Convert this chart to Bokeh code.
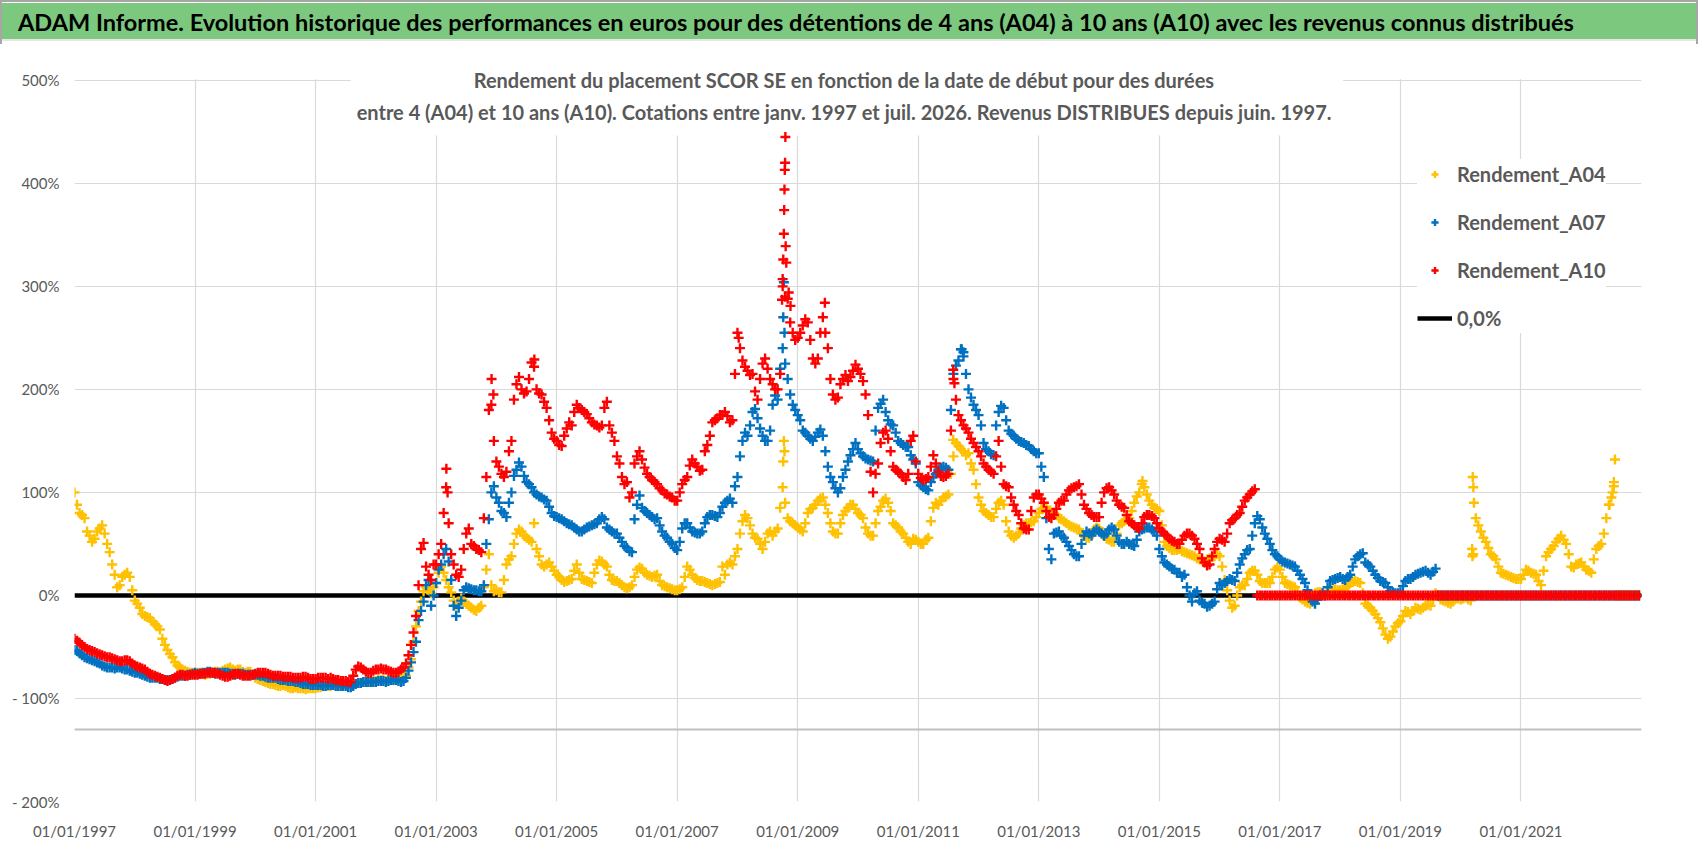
from bokeh.plotting import figure
from bokeh.models import (Range1d, FixedTicker, Legend, LegendItem, Label,
                          BoxAnnotation, Span, Div, ColumnDataSource)
from bokeh.layouts import column
from bokeh.embed import file_html
from bokeh.resources import INLINE

# ---------------------------------------------------------------- texts
TITLE = ("ADAM Informe. Evolution historique des performances en euros pour des "
         "détentions de 4 ans (A04) à 10 ans (A10) avec les revenus connus distribués")
SUBTITLE_1 = "Rendement du placement SCOR SE  en fonction de la date de début pour des durées"
SUBTITLE_2 = ("entre 4 (A04) et 10 ans (A10).  Cotations entre janv. 1997 et juil. 2026. "
              "Revenus DISTRIBUES depuis juin. 1997.")
SERIES_NAMES = ["Rendement_A04", "Rendement_A07", "Rendement_A10", "0,0%"]

# ---------------------------------------------------------------- axes
x_ticks = [1997, 1999, 2001, 2003, 2005, 2007, 2009, 2011, 2013, 2015, 2017, 2019, 2021]
x_tick_labels = ["01/01/1997", "01/01/1999", "01/01/2001", "01/01/2003", "01/01/2005",
                 "01/01/2007", "01/01/2009", "01/01/2011", "01/01/2013", "01/01/2015",
                 "01/01/2017", "01/01/2019", "01/01/2021"]
y_ticks = [-200, -100, 0, 100, 200, 300, 400, 500]
y_tick_labels = ["- 200%", "- 100%", "0%", "100%", "200%", "300%", "400%", "500%"]
X_MIN, X_MAX = 1997.0, 2023.0
Y_MIN, Y_MAX = -200, 500
Y_TOP_ROOM = 525             # room above 500% for the subtitle
FIRST_YEAR = 1997.0          # first monthly value = start of January 1997
BASE_LINE = -130             # grey horizontal line of the original chart

# ---------------------------------------------------------------- data (%)
# readings at the start of each month, from Jan 1997
a04 = [
    100, 80, 75, 58, 55, 65, 60, 42, 20, 10, 20, 18,            # 1997
    -5, -12, -20, -22, -28, -33, -48, -57, -65, -70, -73, -75,  # 1998
    -76, -75, -77, -76, -74, -75, -72, -70, -73, -72, -75, -74,  # 1999
    -80, -82, -84, -86, -87, -88, -88, -90, -89, -90, -91, -90,  # 2000
    -90, -89, -88, -88, -86, -87, -86, -85, -86, -85, -84, -84,  # 2001
    -83, -82, -83, -82, -81, -80, -78, -62, -30, -6, 8, 2,       # 2002
    12, 28, 15, 3, -10, -3, -8, -12, -15, -10, 25, 10,           # 2003
    5, 3, 30, 38, 60, 62, 56, 52, 45, 30, 30, 28,                # 2004
    20, 15, 14, 16, 30, 16, 14, 12, 30, 33, 28, 15,              # 2005
    14, 10, 7, 10, 25, 26, 20, 18, 20, 10, 8, 6,                 # 2006
    5, 8, 28, 20, 15, 14, 12, 10, 12, 28, 30, 30,                # 2007
    45, 72, 75, 60, 55, 45, 60, 58, 65, 105, 75, 70,             # 2008
    66, 62, 80, 85, 92, 95, 80, 62, 60, 78, 85, 88,              # 2009
    80, 75, 60, 58, 82, 92, 90, 70, 66, 60, 52, 55,              # 2010
    52, 50, 56, 85, 88, 95, 98, 135, 145, 140, 138, 122,         # 2011
    95, 82, 78, 76, 90, 88, 62, 56, 60, 68, 70, 72,              # 2012
    80, 85, 82, 80, 75, 72, 68, 66, 64, 58, 56, 64,              # 2013
    65, 58, 54, 52, 68, 72, 75, 90, 100, 105, 92, 85,            # 2014
    82, 52, 46, 44, 45, 42, 40, 38, 35, 33, 36, 38,              # 2015
    38, 15, -5, -10, 8, 10, 22, 24, 14, 12, 12, 25,              # 2016
    25, 12, 10, 8, -2, -6, -8, 2, 3, 1, 4, 6,                    # 2017
    5, 7, 12, 14, 12, -8, -12, -18, -26, -38, -40, -30,          # 2018
    -25, -15, -18, -12, -14, -10, -10, 2, -4, -6, -8, -3,        # 2019
    -4, -2, -5, 75, 62, 52, 40, 35, 22, 20, 18, 16,              # 2020
    16, 25, 22, 20, 10, 38, 45, 52, 58, 50, 28, 30,              # 2021
    32, 25, 22, 45, 50, 75, 95, 0, 0, 0, 0, 0,                   # 2022
]
# readings in the middle of each month, from Jan 1997
a04_mid = [
    88, 78, 62, 52, 62, 68, 50, 30, 8, 18, 22, 5,                # 1997
    -8, -18, -21, -25, -30, -42, -53, -60, -68, -72, -74, -75,   # 1998
    -75, -76, -76, -75, -74, -73, -71, -72, -72, -74, -74, -77,  # 1999
    -81, -83, -85, -86, -88, -87, -89, -90, -90, -90, -90, -90,  # 2000
    -89, -88, -88, -87, -86, -86, -85, -86, -85, -84, -84, -83,  # 2001
    -82, -82, -82, -81, -80, -79, -70, -45, -15, 4, 5, 8,        # 2002
    22, 22, 8, -5, -6, -6, -10, -14, -12, 8, 40, 4,              # 2003
    3, 15, 35, 50, 64, 58, 54, 70, 38, 28, 32, 24,               # 2004
    18, 13, 15, 24, 22, 15, 13, 22, 34, 30, 20, 14,              # 2005
    12, 8, 8, 18, 27, 22, 19, 19, 14, 9, 7, 5,                   # 2006
    6, 18, 25, 17, 14, 13, 11, 11, 13, 20, 32, 38,               # 2007
    60, 78, 68, 56, 50, 52, 62, 62, 85, 90, 72, 68,              # 2008
    64, 70, 84, 88, 94, 88, 70, 60, 70, 82, 88, 84,              # 2009
    78, 66, 58, 70, 86, 94, 82, 68, 62, 56, 50, 54,              # 2010
    50, 54, 72, 90, 92, 96, 118, 148, 142, 136, 128, 108,        # 2011
    88, 80, 76, 84, 92, 72, 58, 58, 65, 70, 71, 76,              # 2012
    84, 86, 80, 78, 74, 70, 67, 65, 60, 56, 60, 66,              # 2013
    62, 55, 52, 60, 70, 74, 82, 96, 108, 98, 88, 84,             # 2014
    68, 48, 44, 44, 43, 41, 39, 36, 34, 35, 37, 40,              # 2015
    28, 5, -12, 0, 10, 16, 24, 20, 12, 12, 18, 27,               # 2016
    18, 11, 9, 3, -4, -7, -3, 3, 2, 2, 5, 5,                     # 2017
    6, 9, 13, 13, 2, -10, -15, -22, -32, -42, -35, -27,          # 2018
    -20, -16, -15, -13, -12, -9, -4, 0, -5, -7, -6, -3,          # 2019
    -3, -4, 40, 68, 56, 46, 38, 28, 21, 19, 17, 16,              # 2020
    20, 24, 21, 14, 24, 42, 48, 55, 54, 40, 27, 31,              # 2021
    28, 24, 35, 48, 60, 88, 110, 0, 0, 0, 0, 0,                  # 2022
]
a07 = [
    -53, -56, -60, -62, -64, -66, -69, -70, -71, -70, -72, -73,  # 1997
    -75, -76, -78, -80, -80, -81, -82, -82, -80, -78, -78, -77,  # 1998
    -75, -76, -75, -74, -76, -75, -75, -76, -77, -76, -77, -77,  # 1999
    -77, -78, -79, -80, -80, -82, -82, -83, -84, -85, -86, -87,  # 2000
    -87, -87, -88, -87, -88, -88, -88, -89, -86, -85, -84, -84,  # 2001
    -84, -83, -84, -82, -82, -84, -80, -65, -45, -15, 10, -10,   # 2002
    12, 30, 45, 15, -20, -5, 8, 6, 5, 4, 50, 100,                # 2003
    95, 82, 76, 100, 122, 125, 110, 105, 98, 95, 92, 80,         # 2004
    76, 74, 70, 68, 64, 62, 66, 68, 70, 76, 66, 62,              # 2005
    60, 52, 46, 42, 88, 85, 80, 76, 75, 62, 56, 50,              # 2006
    44, 65, 70, 62, 60, 62, 76, 78, 76, 86, 92, 90,              # 2007
    115, 150, 155, 178, 172, 155, 150, 185, 190, 240, 210, 185,  # 2008
    175, 160, 155, 150, 158, 155, 125, 110, 100, 115, 130, 142,  # 2009
    142, 135, 132, 130, 182, 190, 170, 165, 150, 146, 144, 132,  # 2010
    110, 105, 102, 115, 122, 125, 122, 215, 228, 232, 200, 185,  # 2011
    175, 148, 140, 136, 178, 182, 160, 155, 150, 148, 145, 140,  # 2012
    138, 115, 45, 60, 62, 56, 48, 40, 38, 58, 60, 62,            # 2013
    62, 58, 64, 64, 52, 50, 50, 48, 62, 65, 66, 62,              # 2014
    45, 32, 28, 25, 22, 20, 0, 2, -5, -8, -10, -6,               # 2015
    12, 12, 16, 14, 30, 40, 45, 70, 74, 60, 50, 40,              # 2016
    35, 32, 30, 28, 20, 12, -2, -8, 0, 0, 14, 16,                # 2017
    18, 15, 20, 35, 40, 32, 28, 20, 14, 12, 4, 2,                # 2018
    3, 14, 16, 20, 22, 24, 20, 26, 0, 0, 0, 0,                   # 2019
    0, 0, 0, 0, 0, 0, 0, 0, 0, 0, 0, 0,                          # 2020
    0, 0, 0, 0, 0, 0, 0, 0, 0, 0, 0, 0,                          # 2021
    0, 0, 0, 0, 0, 0, 0, 0, 0, 0, 0, 0,                          # 2022
]
a07_mid = [
    -54, -58, -61, -63, -65, -68, -70, -70, -70, -71, -72, -74,  # 1997
    -75, -77, -79, -80, -80, -81, -82, -81, -79, -78, -77, -76,  # 1998
    -76, -75, -74, -75, -75, -75, -75, -76, -76, -76, -77, -77,  # 1999
    -77, -78, -80, -80, -81, -82, -83, -83, -84, -86, -86, -87,  # 2000
    -87, -88, -87, -87, -88, -88, -89, -88, -85, -84, -84, -84,  # 2001
    -83, -83, -83, -82, -83, -83, -73, -55, -24, -6, 15, 0,      # 2002
    25, 40, 33, -10, -12, 5, 7, 5, 4, 10, 74, 106,               # 2003
    90, 80, 90, 116, 129, 116, 108, 100, 96, 93, 86, 77,         # 2004
    75, 72, 69, 66, 62, 64, 67, 69, 74, 74, 64, 60,              # 2005
    56, 48, 43, 74, 97, 82, 78, 74, 68, 58, 52, 46,              # 2006
    52, 70, 66, 61, 60, 70, 78, 77, 80, 90, 94, 106,             # 2007
    135, 158, 165, 181, 162, 150, 160, 194, 220, 225, 195, 180,  # 2008
    170, 158, 152, 154, 161, 140, 115, 104, 104, 122, 136, 148,  # 2009
    138, 133, 131, 160, 186, 178, 166, 158, 148, 144, 136, 128,  # 2010
    107, 103, 110, 118, 124, 124, 180, 223, 239, 215, 192, 180,  # 2011
    165, 142, 137, 165, 184, 170, 157, 152, 149, 146, 142, 138,  # 2012
    125, 75, 35, 61, 58, 52, 44, 38, 50, 62, 58, 64,             # 2013
    60, 60, 66, 58, 50, 52, 49, 54, 64, 66, 64, 58,              # 2014
    38, 30, 26, 22, 18, 8, -6, 4, -7, -11, -8, 6,                # 2015
    10, 14, 15, 22, 36, 44, 58, 77, 66, 55, 44, 38,              # 2016
    33, 31, 29, 24, 16, 5, -6, -4, 2, 8, 15, 17,                 # 2017
    16, 18, 28, 38, 41, 30, 24, 17, 13, 8, 3, 2,                 # 2018
    9, 16, 18, 21, 23, 22, 23, 0, 0, 0, 0, 0,                    # 2019
    0, 0, 0, 0, 0, 0, 0, 0, 0, 0, 0, 0,                          # 2020
    0, 0, 0, 0, 0, 0, 0, 0, 0, 0, 0, 0,                          # 2021
    0, 0, 0, 0, 0, 0, 0, 0, 0, 0, 0, 0,                          # 2022
]
a10 = [
    -42, -46, -50, -53, -55, -57, -59, -60, -62, -64, -63, -64,  # 1997
    -68, -70, -72, -76, -78, -80, -82, -82, -80, -77, -78, -77,  # 1998
    -77, -76, -76, -75, -75, -77, -79, -78, -76, -77, -78, -78,  # 1999
    -76, -75, -75, -77, -78, -78, -79, -79, -80, -80, -79, -81,  # 2000
    -81, -80, -80, -80, -82, -83, -83, -84, -72, -70, -74, -75,  # 2001
    -72, -71, -72, -74, -75, -72, -66, -48, -20, 45, 28, 15,     # 2002
    30, 50, 105, 40, 20, 25, 60, 50, 45, 42, 115, 185,           # 2003
    130, 118, 120, 150, 205, 200, 198, 226, 200, 195, 182, 158,  # 2004
    150, 145, 162, 165, 185, 180, 176, 168, 165, 165, 188, 158,  # 2005
    135, 115, 110, 100, 135, 132, 118, 112, 108, 102, 98, 95,    # 2006
    92, 108, 115, 132, 125, 122, 146, 168, 172, 175, 174, 170,   # 2007
    255, 228, 218, 215, 190, 225, 220, 205, 200, 300, 288, 255,  # 2008
    250, 262, 265, 230, 230, 270, 240, 195, 192, 210, 208, 218,  # 2009
    220, 208, 175, 100, 128, 158, 152, 125, 120, 115, 118, 155,  # 2010
    118, 112, 115, 136, 120, 115, 118, 210, 175, 165, 158, 148,  # 2011
    140, 128, 122, 118, 150, 108, 105, 88, 78, 65, 64, 95,       # 2012
    98, 90, 76, 78, 90, 92, 102, 105, 108, 88, 80, 76,           # 2013
    76, 100, 105, 98, 88, 85, 72, 68, 65, 76, 78, 75,            # 2014
    65, 60, 55, 52, 50, 58, 60, 55, 45, 32, 30, 45,              # 2015
    55, 52, 70, 75, 80, 92, 98, 103, 0, 0, 0, 0,                 # 2016
    0, 0, 0, 0, 0, 0, 0, 0, 0, 0, 0, 0,                          # 2017
    0, 0, 0, 0, 0, 0, 0, 0, 0, 0, 0, 0,                          # 2018
    0, 0, 0, 0, 0, 0, 0, 0, 0, 0, 0, 0,                          # 2019
    0, 0, 0, 0, 0, 0, 0, 0, 0, 0, 0, 0,                          # 2020
    0, 0, 0, 0, 0, 0, 0, 0, 0, 0, 0, 0,                          # 2021
    0, 0, 0, 0, 0, 0, 0, 0, 0, 0, 0, 0,                          # 2022
]
a10_mid = [
    -44, -48, -52, -54, -56, -58, -60, -61, -63, -64, -63, -66,  # 1997
    -69, -71, -74, -77, -79, -81, -83, -81, -78, -77, -78, -77,  # 1998
    -77, -76, -75, -75, -76, -78, -79, -77, -76, -78, -78, -77,  # 1999
    -75, -75, -76, -78, -78, -79, -79, -80, -80, -79, -80, -81,  # 2000
    -80, -80, -81, -81, -82, -83, -84, -78, -69, -72, -75, -73,  # 2001
    -72, -72, -73, -75, -74, -70, -58, -36, 10, 51, 20, 30,      # 2002
    40, 80, 70, 30, 18, 45, 65, 48, 44, 75, 180, 150,            # 2003
    125, 115, 140, 190, 212, 196, 210, 222, 196, 188, 170, 152,  # 2004
    146, 155, 168, 178, 182, 178, 172, 166, 163, 182, 165, 150,  # 2005
    128, 108, 95, 128, 140, 124, 115, 110, 104, 99, 96, 92,      # 2006
    100, 112, 126, 128, 121, 140, 155, 170, 175, 178, 168, 215,  # 2007
    240, 222, 214, 198, 210, 230, 210, 200, 215, 290, 265, 248,  # 2008
    255, 268, 248, 225, 255, 255, 210, 190, 205, 214, 212, 224,  # 2009
    215, 195, 120, 118, 148, 160, 140, 122, 118, 112, 150, 130,  # 2010
    114, 113, 125, 128, 116, 116, 160, 190, 170, 162, 152, 144,  # 2011
    135, 125, 120, 135, 125, 106, 95, 82, 70, 64, 82, 98,        # 2012
    94, 82, 75, 84, 92, 98, 104, 106, 98, 84, 78, 76,            # 2013
    90, 104, 102, 92, 86, 78, 70, 66, 70, 78, 77, 70,            # 2014
    62, 58, 53, 50, 54, 60, 58, 50, 36, 29, 38, 52,              # 2015
    54, 60, 73, 78, 86, 95, 101, 0, 0, 0, 0, 0,                  # 2016
    0, 0, 0, 0, 0, 0, 0, 0, 0, 0, 0, 0,                          # 2017
    0, 0, 0, 0, 0, 0, 0, 0, 0, 0, 0, 0,                          # 2018
    0, 0, 0, 0, 0, 0, 0, 0, 0, 0, 0, 0,                          # 2019
    0, 0, 0, 0, 0, 0, 0, 0, 0, 0, 0, 0,                          # 2020
    0, 0, 0, 0, 0, 0, 0, 0, 0, 0, 0, 0,                          # 2021
    0, 0, 0, 0, 0, 0, 0, 0, 0, 0, 0, 0,                          # 2022
]

# short-lived peaks between the readings above (decimal year, %)
a04_peak_dates = [2008.76, 2008.77, 2008.78, 2011.58, 2014.72, 2020.19, 2020.195,
                  2020.20, 2020.21, 2020.22, 2022.47, 2022.52, 2022.54, 2022.56]
a04_peak_values = [130, 150, 140, 151, 111, 45, 38, 115, 105, 90, 88, 100, 106, 132]
a07_peak_dates = [2008.76, 2008.77, 2008.78, 2011.72, 2011.75]
a07_peak_values = [270, 304, 255, 239, 236]
a10_peak_dates = [2003.17, 2003.19, 2003.92, 2003.95, 2004.63, 2008.02, 2008.74,
                  2008.75, 2008.76, 2008.77, 2008.775, 2008.78, 2008.785, 2008.79,
                  2008.795, 2008.80, 2008.81, 2008.85, 2008.88, 2009.45, 2011.58, 2011.60]
a10_peak_values = [123, 100, 210, 195, 229, 250, 287, 307, 326, 351, 374, 394, 413,
                   420, 445, 339, 323, 294, 281, 284, 219, 206]

zero_dates = [X_MIN, X_MAX]
zero_values = [0.0, 0.0]

COLORS = ["#FFC000", "#0070C0", "#FF0000", "#000000"]
TEXT_GREY = "#595959"
FONT = "Lato"


def series_source(start_vals, mid_vals, peak_dates, peak_values):
    xs = ([FIRST_YEAR + i / 12.0 for i in range(len(start_vals))]
          + [FIRST_YEAR + (i + 0.5) / 12.0 for i in range(len(mid_vals))]
          + list(peak_dates))
    ys = list(start_vals) + list(mid_vals) + list(peak_values)
    return ColumnDataSource(data=dict(x=xs, y=ys))


# ---------------------------------------------------------------- figure
p = figure(width=1698, height=812,
           x_range=Range1d(X_MIN, X_MAX), y_range=Range1d(Y_MIN, Y_TOP_ROOM),
           output_backend="svg", toolbar_location=None,
           min_border_left=74, min_border_right=57, min_border_top=10, min_border_bottom=55)
p.outline_line_color = None
p.background_fill_color = "white"
p.border_fill_color = "white"

for ax, ticks, labels in ((p.xaxis[0], x_ticks, x_tick_labels), (p.yaxis[0], y_ticks, y_tick_labels)):
    ax.ticker = FixedTicker(ticks=ticks)
    ax.major_label_overrides = {t: l for t, l in zip(ticks, labels)}
    ax.axis_line_color = None
    ax.major_tick_line_color = None
    ax.minor_tick_line_color = None
    ax.major_label_text_color = TEXT_GREY
    ax.major_label_text_font = FONT
    ax.major_label_text_font_size = "15px"
p.xaxis.major_label_standoff = 14
p.yaxis.major_label_standoff = 9

p.xgrid.grid_line_color = "#D9D9D9"
p.ygrid.grid_line_color = "#D9D9D9"
p.xgrid.grid_line_width = 1.2
p.ygrid.grid_line_width = 1.2

# white areas: above the 500% line, and behind the chart subtitle
p.add_layout(BoxAnnotation(bottom=Y_MAX + 1, fill_color="white", fill_alpha=1.0,
                           line_color=None, level="underlay"))
p.add_layout(BoxAnnotation(left=2001.58, right=2018.05, bottom=446.5,
                           fill_color="white", fill_alpha=1.0, line_color=None,
                           level="underlay"))
p.add_layout(Span(location=BASE_LINE, dimension="width", line_color="#C0C0C0",
                  line_width=2, level="underlay"))

r_zero = p.line(zero_dates, zero_values, line_color=COLORS[3], line_width=4.5)

renderers = []
for (vals, mids, pdx, pdy), color in zip(((a04, a04_mid, a04_peak_dates, a04_peak_values),
                                          (a07, a07_mid, a07_peak_dates, a07_peak_values),
                                          (a10, a10_mid, a10_peak_dates, a10_peak_values)),
                                         COLORS[:3]):
    src = series_source(vals, mids, pdx, pdy)
    r = p.scatter("x", "y", source=src, marker="cross", size=10, line_width=2.4,
                  line_color=color, fill_color=color)
    renderers.append(r)
renderers.append(r_zero)

for text, yv in ((SUBTITLE_1, 500), (SUBTITLE_2, 469)):
    p.add_layout(Label(x=2009.81, y=yv, text=text, text_align="center",
                       text_baseline="middle", text_font=FONT, text_font_size="20px",
                       text_font_style="bold", text_color=TEXT_GREY))

legend = Legend(items=[LegendItem(label=n, renderers=[r]) for n, r in zip(SERIES_NAMES, renderers)],
                location=(1343, 468), orientation="vertical",
                label_text_font=FONT, label_text_font_size="20px", label_text_font_style="bold",
                label_text_color=TEXT_GREY, glyph_width=35, glyph_height=18, label_height=30,
                label_standoff=5, spacing=18, padding=22, margin=0,
                background_fill_color="white", background_fill_alpha=1.0,
                border_line_color=None)
p.add_layout(legend)

title_div = Div(text=(
    '<div style="width:1698px;height:44px;background:white;box-sizing:border-box;'
    'border-left:2px solid #A6A6A6;border-right:2px solid #A6A6A6;border-top:2px solid #A6A6A6;">'
    '<div style="margin-top:1px;height:38px;background:#7DC87F;color:#000000;'
    'font-family:Lato;font-weight:bold;font-size:23.5px;line-height:38px;'
    'padding-left:16px;box-sizing:border-box;white-space:nowrap;overflow:hidden;'
    'border-bottom:2px solid #E6E6E6">' + TITLE + '</div></div>'),
    width=1698, height=44, margin=0)

layout = column(title_div, p, spacing=0)
open("out.html", "w").write(file_html(layout, INLINE))
